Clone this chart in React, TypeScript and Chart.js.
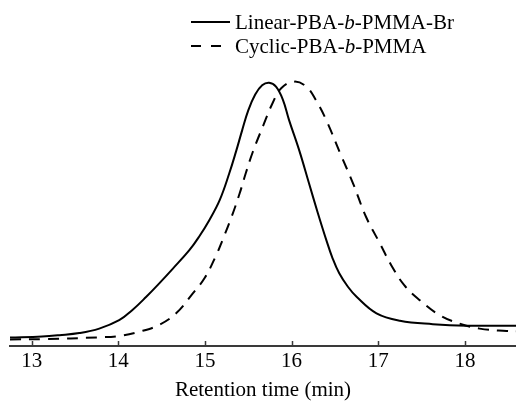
import React, { useEffect, useRef } from "react";
import { Chart, registerables } from "chart.js";

Chart.register(...registerables);

const xTicks = [13, 14, 15, 16, 17, 18];
const xMin = 12.75;
const xMax = 18.59;
const yMax = 1.09;
const xTitle = "Retention time (min)";

const seriesLabels = ["Linear-PBA-b-PMMA-Br", "Cyclic-PBA-b-PMMA"];

const linearX = [12.75, 13.12, 13.32, 13.55, 13.78, 14.01, 14.16, 14.32, 14.47, 14.63, 14.82, 14.93, 15.05, 15.17, 15.28, 15.36, 15.43, 15.5, 15.58, 15.66, 15.74, 15.82, 15.9, 15.97, 16.09, 16.2, 16.3, 16.4, 16.47, 16.55, 16.65, 16.75, 16.98, 17.25, 17.63, 18.02, 18.59];
const linearY = [0.032, 0.036, 0.041, 0.049, 0.066, 0.098, 0.136, 0.186, 0.237, 0.294, 0.364, 0.414, 0.478, 0.554, 0.655, 0.74, 0.82, 0.895, 0.955, 0.99, 1.0, 0.985, 0.935, 0.859, 0.741, 0.619, 0.508, 0.403, 0.336, 0.276, 0.225, 0.187, 0.124, 0.096, 0.083, 0.077, 0.077];

const cyclicX = [12.75, 13.12, 13.78, 14.01, 14.24, 14.47, 14.67, 14.86, 15.0, 15.13, 15.2, 15.3, 15.4, 15.47, 15.55, 15.67, 15.78, 15.88, 16.03, 16.17, 16.28, 16.4, 16.57, 16.71, 16.86, 17.02, 17.15, 17.3, 17.48, 17.71, 17.94, 18.17, 18.48, 18.59];
const cyclicY = [0.025, 0.026, 0.033, 0.038, 0.054, 0.08, 0.125, 0.2, 0.26, 0.345, 0.4, 0.484, 0.579, 0.655, 0.735, 0.835, 0.922, 0.979, 1.004, 0.985, 0.934, 0.858, 0.725, 0.617, 0.49, 0.389, 0.307, 0.231, 0.174, 0.117, 0.085, 0.066, 0.057, 0.056];

const FONT = "'Liberation Serif', 'Times New Roman', serif";
const AXIS_COLOR = "#3a3a3a";

const toPoints = (xs: number[], ys: number[]) => xs.map((x, i) => ({ x, y: ys[i] }));

const tickMarksPlugin = {
  id: "innerTicks",
  afterDraw(chart: any) {
    const scale = chart.scales.x;
    const ctx = chart.ctx;
    const bottom = chart.chartArea.bottom;
    ctx.save();
    ctx.strokeStyle = AXIS_COLOR;
    ctx.lineWidth = 1.5;
    xTicks.forEach((v) => {
      const px = Math.round(scale.getPixelForValue(v)) + 0.5;
      ctx.beginPath();
      ctx.moveTo(px, bottom - 5);
      ctx.lineTo(px, bottom);
      ctx.stroke();
    });
    ctx.restore();
  },
};

const legendPlugin = {
  id: "customLegend",
  afterDraw(chart: any) {
    const ctx = chart.ctx;
    const x0 = 191;
    const x1 = 230;
    const tx = 235;
    const rows = [29, 53];
    ctx.save();
    chart.data.datasets.forEach((ds: any, i: number) => {
      const base = rows[i];
      const ly = base - 7;
      ctx.strokeStyle = ds.borderColor;
      ctx.lineWidth = 2;
      ctx.setLineDash(ds.borderDash ? [10, 10] : []);
      ctx.beginPath();
      ctx.moveTo(x0, ly);
      ctx.lineTo(x1, ly);
      ctx.stroke();
      ctx.setLineDash([]);
      ctx.fillStyle = "#000";
      ctx.textBaseline = "alphabetic";
      ctx.textAlign = "left";
      const parts = String(ds.label).split(/(?<=-)(b)(?=-)/);
      let x = tx;
      parts.forEach((p: string) => {
        ctx.font = (p === "b" ? "italic " : "") + "21px " + FONT;
        ctx.fillText(p, x, base);
        x += ctx.measureText(p).width;
      });
    });
    ctx.restore();
  },
};

export default function App() {
  const ref = useRef<HTMLCanvasElement>(null);
  useEffect(() => {
    document.body.style.margin = "0";
    const canvas = ref.current;
    if (!canvas) return;
    const chart = new Chart(canvas, {
      type: "line",
      data: {
        datasets: [
          {
            label: seriesLabels[0],
            data: toPoints(linearX, linearY),
            borderColor: "#000",
            borderWidth: 2,
            pointRadius: 0,
            tension: 0.4,
            fill: false,
          },
          {
            label: seriesLabels[1],
            data: toPoints(cyclicX, cyclicY),
            borderColor: "#000",
            borderWidth: 2,
            borderDash: [11, 8],
            pointRadius: 0,
            tension: 0.4,
            fill: false,
          },
        ],
      },
      options: {
        responsive: false,
        animation: false,
        layout: { padding: { top: 59, left: 10, right: 0, bottom: 0 } },
        plugins: {
          legend: { display: false },
          tooltip: { enabled: false },
        },
        scales: {
          x: {
            type: "linear",
            min: xMin,
            max: xMax,
            afterBuildTicks: (scale: any) => {
              scale.ticks = xTicks.map((v) => ({ value: v }));
            },
            afterFit: (scale: any) => {
              scale.height = 55;
            },
            grid: { display: false, drawTicks: false },
            border: { display: true, color: AXIS_COLOR, width: 2 },
            ticks: {
              padding: 3,
              color: "#000",
              font: { family: FONT, size: 21 },
              maxRotation: 0,
              autoSkip: false,
            },
            title: {
              display: true,
              text: xTitle,
              color: "#000",
              font: { family: FONT, size: 21, lineHeight: 1 },
              padding: { top: 0, bottom: 0 },
            },
          },
          y: {
            display: false,
            min: 0,
            max: yMax,
          },
        },
      },
      plugins: [tickMarksPlugin, legendPlugin],
    });
    return () => chart.destroy();
  }, []);
  return (
    <div style={{ width: 516, height: 401 }}>
      <canvas ref={ref} width={516} height={401} />
    </div>
  );
}
